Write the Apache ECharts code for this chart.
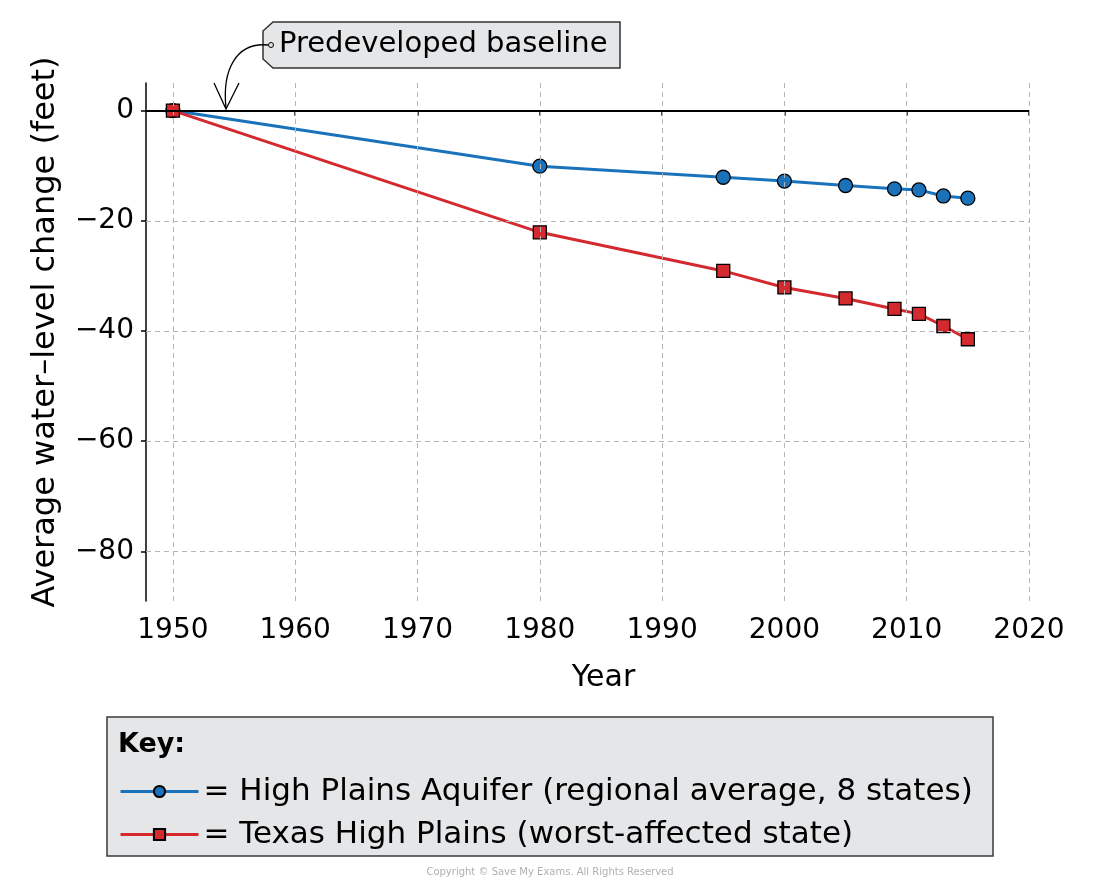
<!DOCTYPE html>
<html>
<head>
<meta charset="utf-8">
<script src="https://cdn.jsdelivr.net/npm/echarts@6/dist/echarts.min.js"></script>
<style>html,body{margin:0;padding:0;background:#fff}#c{width:1100px;height:890px}</style>
</head>
<body>
<div id="c"></div>
<script>
const years = [1950, 1980, 1995, 2000, 2005, 2009, 2011, 2013, 2015];
const aquifer = [0, -10.1, -12.1, -12.8, -13.6, -14.2, -14.4, -15.5, -15.9];
const texas = [0, -22.1, -29.1, -32.1, -34.1, -36.0, -36.9, -39.1, -41.5];
const xTicks = [1950, 1960, 1970, 1980, 1990, 2000, 2010, 2020];
const yTicks = [-80, -60, -40, -20, 0];
const seriesNames = ['High Plains Aquifer (regional average, 8 states)', 'Texas High Plains (worst-affected state)'];
const FONT = '"DejaVu Sans", sans-serif';
const blue = '#1a72bb', red = '#d42a2f';

const chart = echarts.init(document.getElementById('c'));
const minus = v => v < 0 ? '\u2212' + Math.abs(v) : String(v);

const gridMarks = xTicks.map(x => ({xAxis: x})).concat(yTicks.filter(v => v !== 0).map(y => ({yAxis: y})));

chart.setOption({
  animation: false,
  textStyle: {fontFamily: FONT, color: '#000'},
  grid: {left: 146, right: 71, top: 83, bottom: 289, containLabel: false},
  xAxis: {
    type: 'value', min: 1947.8, max: 2020,
    name: 'Year', nameLocation: 'middle', nameGap: 62,
    nameTextStyle: {fontSize: 30, color: '#000', fontFamily: FONT, padding: [0, 0, 0, 32]},
    axisLine: {show: true, lineStyle: {color: '#000', width: 1.5}},
    axisTick: {show: true, length: 5, customValues: xTicks, lineStyle: {color: '#000', width: 1.5}},
    axisLabel: {customValues: xTicks, fontSize: 28, color: '#000', margin: 16, formatter: v => String(v)},
    splitLine: {show: false}
  },
  yAxis: {
    type: 'value', min: -89, max: 5,
    name: 'Average water\u2013level change (feet)', nameLocation: 'middle', nameGap: 84,
    nameTextStyle: {fontSize: 32, color: '#000', fontFamily: FONT, padding: [0, 0, 0, 20]},
    axisLine: {show: true, lineStyle: {color: '#000', width: 1.5}},
    axisTick: {show: true, length: 5, customValues: yTicks, lineStyle: {color: '#000', width: 1.5}},
    axisLabel: {customValues: yTicks, fontSize: 28, color: '#000', margin: 12, formatter: minus},
    splitLine: {show: false}
  },
  legend: {
    data: seriesNames, orient: 'vertical', left: 114, top: 771, itemGap: 12,
    itemWidth: 78, itemHeight: 14,
    lineStyle: {width: 3},
    textStyle: {fontSize: 31, color: '#000', fontFamily: FONT},
    formatter: n => '= ' + n
  },
  graphic: [
    {type: 'rect', z: 0, shape: {x: 107, y: 717, width: 886, height: 139},
     style: {fill: '#e5e6e8', stroke: '#3a3a3a', lineWidth: 1.5}},
    {type: 'text', z: 1, left: 118, top: 731, style: {text: 'Key:', font: 'bold 27px ' + FONT, fill: '#000'}},
    {type: 'polygon', z: 10, shape: {points: [[273, 22], [620, 22], [620, 68], [273, 68], [263, 59], [263, 31]]},
     style: {fill: '#e5e6e8', stroke: '#333', lineWidth: 1.5}},
    {type: 'circle', z: 11, shape: {cx: 271, cy: 45, r: 2.5}, style: {fill: '#e5e6e8', stroke: '#000', lineWidth: 1}},
    {type: 'text', z: 11, left: 279, top: 30, style: {text: 'Predeveloped baseline', font: '29px ' + FONT, fill: '#000'}},
    {type: 'bezierCurve', z: 11, shape: {x1: 268, y1: 45, cpx1: 236, cpy1: 42, cpx2: 222, cpy2: 70, x2: 226, y2: 108},
     style: {stroke: '#000', lineWidth: 1.3, fill: null}},
    {type: 'polyline', z: 11, shape: {points: [[214, 83], [226, 109], [239, 83]]},
     style: {stroke: '#000', lineWidth: 1.3, fill: null}},
    {type: 'text', z: 1, left: 'center', top: 867, style: {text: 'Copyright \u00a9 Save My Exams. All Rights Reserved', font: '10px ' + FONT, fill: '#b0b0b0'}}
  ],
  series: [
    {
      type: 'line', name: '_grid', data: [], z: 1, silent: true,
      markLine: {
        silent: true, symbol: ['none', 'none'], label: {show: false},
        lineStyle: {color: '#b5b5b5', type: [5, 4], width: 1},
        data: gridMarks.concat([{yAxis: 0, lineStyle: {color: '#000', type: 'solid', width: 2}}])
      }
    },
    {
      type: 'line', name: seriesNames[0], z: 3,
      data: years.map((y, i) => [y, aquifer[i]]),
      symbol: 'circle', symbolSize: 14,
      lineStyle: {color: blue, width: 3},
      itemStyle: {color: blue, borderColor: '#000', borderWidth: 1.3}
    },
    {
      type: 'line', name: seriesNames[1], z: 4,
      data: years.map((y, i) => [y, texas[i]]),
      symbol: 'rect', symbolSize: 13,
      lineStyle: {color: red, width: 3},
      itemStyle: {color: red, borderColor: '#000', borderWidth: 1.3}
    }
  ]
});
</script>
</body>
</html>
